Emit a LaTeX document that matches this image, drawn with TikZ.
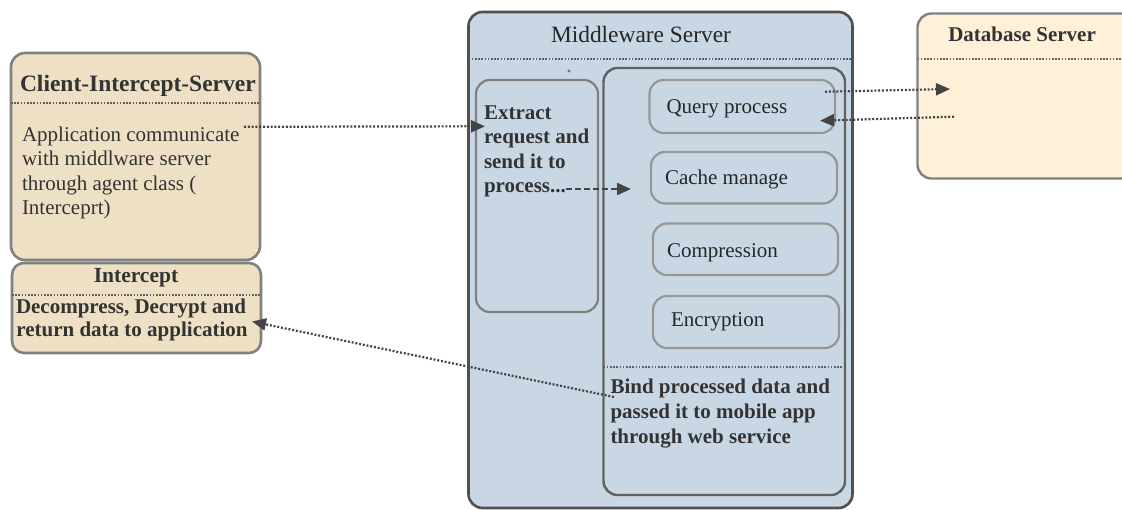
\documentclass[tikz,border=0pt]{standalone}
\usepackage{fontspec}
\setmainfont{Liberation Serif}
\usetikzlibrary{arrows.meta}
\definecolor{clientfill}{RGB}{238,224,197}
\definecolor{dbfill}{RGB}{255,241,215}
\definecolor{mwfill}{RGB}{201,215,229}
\definecolor{edgegrey}{RGB}{128,128,128}
\definecolor{darkedge}{RGB}{80,80,80}
\definecolor{subedge}{RGB}{150,150,150}
\definecolor{txtdark}{RGB}{51,51,51}
\definecolor{arrowc}{RGB}{68,68,68}
\begin{document}
\begin{tikzpicture}[x=1pt,y=-1pt,
  box/.style={draw, rounded corners=14, inner sep=0, outer sep=0, anchor=north west},
  sep/.style={draw=darkedge!90, line width=2pt, dash pattern=on 1.6pt off 1.6pt},
  txt/.style={inner sep=0, outer sep=0, anchor=base west, text=txtdark, font=\fontsize{21}{24}\selectfont},
  btxt/.style={txt, font=\fontsize{21}{24}\selectfont\bfseries},
  ctxt/.style={inner sep=0, outer sep=0, anchor=base, text=txtdark},
  conn/.style={draw=arrowc, line width=2.2pt, dash pattern=on 2pt off 1.8pt, -{Triangle[length=14pt,width=12pt]}},
  dconn/.style={draw=arrowc, line width=2.2pt, dash pattern=on 6pt off 3pt, -{Triangle[length=14pt,width=12pt]}}
]
\useasboundingbox (0,0) rectangle (1122,510);
\clip (0,0) rectangle (1122,510);

% Client side
\node[box, fill=clientfill, draw=edgegrey, line width=2.6pt, minimum width=249, minimum height=207] (client) at (11,53) {};
\draw[sep] ([yshift=-50.3]client.north west) -- ([yshift=-50.3]client.north east);
\node[ctxt, anchor=base west, font=\fontsize{23.5}{26}\selectfont\bfseries] (clientT) at (20,91.7) {Client-Intercept-Server};
\node[txt] (c1) at (22,141.5) {Application communicate};
\node[txt] (c2) at (22,166) {with middlware server};
\node[txt] (c3) at (22,190.5) {through agent class (};
\node[txt] (c4) at (22,215) {Interceprt)};

\node[box, fill=clientfill, draw=edgegrey, line width=2.6pt, rounded corners=12, minimum width=249, minimum height=90] (intercept) at (12,263) {};
\draw[sep] ([yshift=-32]intercept.north west) -- ([yshift=-32]intercept.north east);
\node[ctxt, font=\fontsize{21.5}{24}\selectfont\bfseries] (interT) at (136,282.7) {Intercept};
\node[ctxt, font=\fontsize{21}{24}\selectfont\bfseries] (i1) at (131,313.3) {Decompress, Decrypt and};
\node[ctxt, font=\fontsize{21}{24}\selectfont\bfseries] (i2) at (132,336.7) {return data to application};

% Middleware
\node[box, fill=mwfill, draw=darkedge, line width=2.6pt, minimum width=384, minimum height=496] (mw) at (468.5,12) {};
\draw[sep] ([yshift=-47.3]mw.north west) -- ([yshift=-47.3]mw.north east);
\node[ctxt, text=black!85, font=\fontsize{23.4}{26}\selectfont] (mwT) at (641,42.7) {Middleware Server};
\fill[darkedge!80] (569,71) circle (1.6);

\node[box, draw=edgegrey, line width=2.2pt, minimum width=122, minimum height=232] (extract) at (476,80) {};
\node[btxt] (e1) at (484,119.3) {Extract};
\node[btxt] (e2) at (484,143.3) {request and};
\node[btxt] (e3) at (484,168.3) {send it to};
\node[btxt] (e4) at (484,192.7) {process...};

\node[box, draw=darkedge!90, line width=2.4pt, minimum width=241.5, minimum height=427] (inner) at (603.5,68) {};
\node[box, draw=subedge, line width=2.2pt, minimum width=185.5, minimum height=53] (query) at (649.5,80) {};
\node[box, draw=subedge, line width=2.2pt, minimum width=186, minimum height=51.5] (cache) at (651,152) {};
\node[box, draw=subedge, line width=2.2pt, minimum width=185, minimum height=51.5] (compr) at (653,223.5) {};
\node[box, draw=subedge, line width=2.2pt, minimum width=186, minimum height=52] (encr) at (653,296) {};
\node[txt, text=black!85] (qT) at (666.5,113.3) {Query process};
\node[txt, text=black!85] (cT) at (665,185) {Cache manage};
\node[txt, text=black!85] (coT) at (667,258) {Compression};
\node[txt, text=black!85] (enT) at (671,326.7) {Encryption};
\draw[sep] ([yshift=-298.7]inner.north west) -- ([yshift=-298.7]inner.north east);
\node[btxt] (b1) at (610.5,394) {Bind processed data and};
\node[btxt] (b2) at (610.5,418.3) {passed it to mobile app};
\node[btxt] (b3) at (610.5,443.3) {through web service};

% Database
\node[box, fill=dbfill, draw=edgegrey, line width=2.4pt, minimum width=230, minimum height=165] (db) at (917.5,13.5) {};
\draw[sep] ([yshift=-45.8]db.north west) -- ([yshift=-45.8]db.north east);
\node[ctxt, anchor=base west, font=\fontsize{21}{24}\selectfont\bfseries] (dbT) at (948.3,41.7) {Database Server};

% Connectors
\coordinate (a1s) at (244,126.8);
\coordinate (a1e) at (485,126.3);
\draw[conn] (a1s) -- (a1e);
\coordinate (a2s) at (566,189);
\coordinate (a2e) at (631,189);
\draw[dconn] (a2s) -- (a2e);
\coordinate (a3s) at (825,91.7);
\coordinate (a3e) at (950,89);
\draw[conn] (a3s) -- (a3e);
\coordinate (a4s) at (954,116.7);
\coordinate (a4e) at (820,120.7);
\draw[conn] (a4s) -- (a4e);
\coordinate (a5s) at (614,397);
\coordinate (a5e) at (252,321.5);
\draw[conn] (a5s) -- (a5e);
\end{tikzpicture}
\end{document}
